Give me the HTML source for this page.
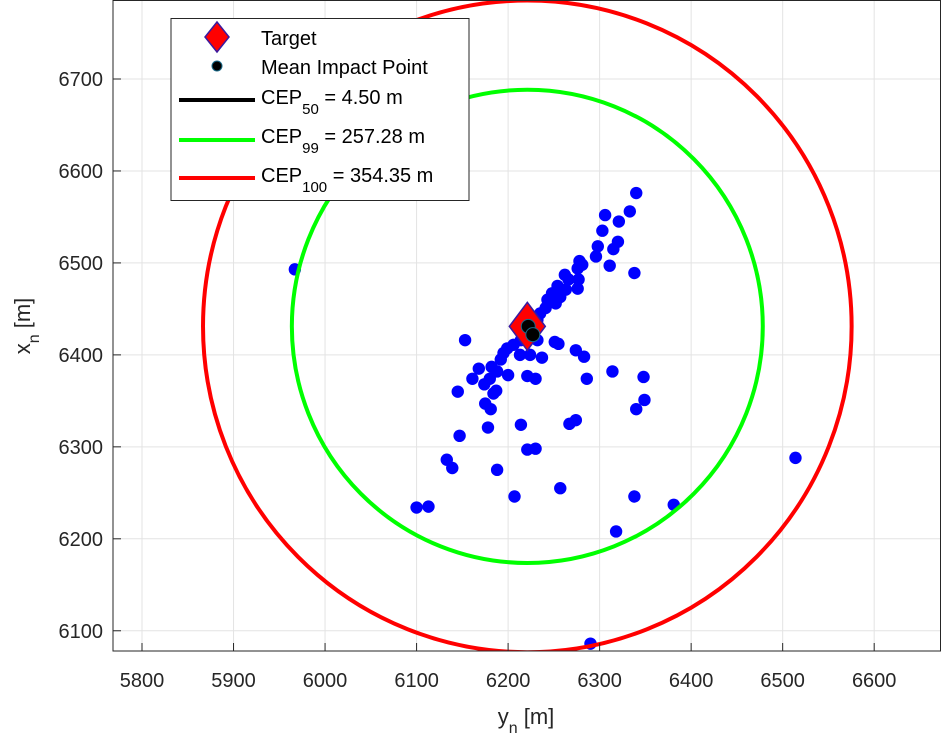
<!DOCTYPE html>
<html><head><meta charset="utf-8"><style>
html,body{margin:0;padding:0;background:#fff;}
svg{display:block;font-family:"Liberation Sans",Arial,sans-serif;}
</style></head><body>
<svg id="chart" width="943" height="739" viewBox="0 0 943 739" xmlns="http://www.w3.org/2000/svg"></svg>
<script>
const xTicks=[5800,5900,6000,6100,6200,6300,6400,6500,6600];
const yTicks=[6100,6200,6300,6400,6500,6600,6700];
const impactY=[6340,6306,6333,6321,6303,6320,6315,6298,6296,6311,6338,6278,6281,6276,6262,6277,6276,6266,6254,6263,6248,6257,6243,6252,6241,6235,6232,6153,6251,6255,6274,6283,6232,6214,6206,6199,6195,6192,6224,6237,6213,6168,6182,6188,6200,6161,6180,6221,6230,6286,6314,6348,6174,6187,6184,6145,6349,6340,6175,6181,6214,6267,6274,6178,6147,6221,6230,6133,6139,6188,6257,6207,6100,6113,6338,6381,6318,5967,6514,6290];
const impactX=[6576,6552,6556,6545,6535,6523,6515,6518,6507,6497,6489,6502,6498,6494,6487,6482,6472,6482,6475,6471,6467,6463,6460,6456,6451,6445,6438,6416,6414,6412,6405,6398,6416,6416,6411,6407,6402,6395,6400,6397,6400,6385,6387,6382,6378,6374,6374,6377,6374,6374,6382,6376,6368,6361,6358,6360,6351,6341,6347,6341,6324,6325,6329,6321,6312,6297,6298,6286,6277,6275,6255,6246,6234,6235,6246,6237,6208,6493,6288,6086];
const target=[6221,6431];
const meanY=[6222,6227];
const meanX=[6431,6422];
const cepRadii=[4.50,257.28,354.35];
const cepColors=['#000000','#00ff00','#ff0000'];

const L=113,R=941,T=0,B=651;
const xMin=5768.3,xMax=6673,yMin=6078,yMax=6785.9;
const sx=v=>L+(v-xMin)/(xMax-xMin)*(R-L);
const sy=v=>B-(v-yMin)/(yMax-yMin)*(B-T);
const NS='http://www.w3.org/2000/svg';
const svg=document.getElementById('chart');
function mk(tag,attrs,parent){const e=document.createElementNS(NS,tag);for(const k in attrs)e.setAttribute(k,attrs[k]);(parent||svg).appendChild(e);return e;}

const bg=mk('rect',{x:L,y:T,width:R-L,height:B-T,fill:'#fff'});



const grid=mk('g',{stroke:'#e3e3e3','stroke-width':1});


xTicks.forEach(t=>{mk('line',{x1:sx(t),x2:sx(t),y1:T,y2:B},grid);});
yTicks.forEach(t=>{mk('line',{x1:L,x2:R,y1:sy(t),y2:sy(t)},grid);});

const clip=mk('clipPath',{id:'cp'});
mk('rect',{x:L,y:T,width:R-L,height:B-T},clip);
const plot=mk('g',{'clip-path':'url(#cp)'});



const pts=mk('g',{fill:'#0000ff'},plot);


impactY.forEach((v,i)=>{
  const c=mk('circle',{cx:sx(v),cy:sy(impactX[i]),r:6.2},pts);
  
  
});

const pxPerUnitX=(R-L)/(xMax-xMin), pxPerUnitY=(B-T)/(yMax-yMin);
const cepNames=['cep50-circle','cep99-circle','cep100-circle'];
cepRadii.forEach((r,i)=>{
  const e=mk('ellipse',{cx:sx(target[0]),cy:sy(target[1]),rx:r*pxPerUnitX,ry:r*pxPerUnitY,fill:'none',stroke:cepColors[i],'stroke-width':4},plot);
  
  
});

const tx=sx(target[0]),ty=sy(target[1]);
const dia=mk('polygon',{points:`${tx},${ty-24} ${tx+18},${ty} ${tx},${ty+24} ${tx-18},${ty}`,fill:'#ff0000',stroke:'#3a1aa0','stroke-width':1.5},plot);


meanY.forEach((v,i)=>{
  const m=mk('circle',{cx:sx(v),cy:sy(meanX[i]),r:7,fill:'#000',stroke:'#1b6b8a','stroke-width':1},plot);
  
  
});

const box=mk('rect',{x:L,y:T+0.5,width:R-L-0.5,height:B-T-0.5,fill:'none',stroke:'#262626','stroke-width':1});



const xax=mk('g',{fill:'#262626','font-size':20,'text-anchor':'middle'});


xTicks.forEach(t=>{
  mk('line',{x1:sx(t),x2:sx(t),y1:B,y2:B-8,stroke:'#262626'},xax);
  const tl=mk('text',{x:sx(t),y:B+36},xax);tl.textContent=t;
  
  
});
const yax=mk('g',{fill:'#262626','font-size':20,'text-anchor':'end'});


yTicks.forEach(t=>{
  mk('line',{x1:L,x2:L+8,y1:sy(t),y2:sy(t),stroke:'#262626'},yax);
  const tl=mk('text',{x:L-10,y:sy(t)+7},yax);tl.textContent=t;
  
  
});
</script>
<svg style="position:absolute;left:0;top:0" width="943" height="739" xmlns="http://www.w3.org/2000/svg">
<g font-family="Liberation Sans, Arial, sans-serif" fill="#262626">
<text x="526" y="724" font-size="22" text-anchor="middle">y<tspan font-size="16" dy="9">n</tspan><tspan dy="-9"> [m]</tspan></text>
<text transform="translate(30,326) rotate(-90)" font-size="22" text-anchor="middle">x<tspan font-size="16" dy="9">n</tspan><tspan dy="-9"> [m]</tspan></text>
</g>
<g font-family="Liberation Sans, Arial, sans-serif" fill="#000">
<rect x="171" y="18.5" width="298" height="182" fill="#fff" stroke="#262626" stroke-width="1"/>
<polygon points="217,22 229,37 217,52 205,37" fill="#ff0000" stroke="#3a1aa0" stroke-width="1.5"/>
<text x="261" y="45" font-size="20">Target</text>
<circle cx="217" cy="66" r="5" fill="#000" stroke="#1b6b8a"/>
<text x="261" y="74" font-size="20">Mean Impact Point</text>
<line x1="179" x2="255" y1="100" y2="100" stroke="#000" stroke-width="4"/>
<text x="261" y="104" font-size="20">CEP<tspan font-size="15" dy="10">50</tspan><tspan dy="-10"> = 4.50 m</tspan></text>
<line x1="179" x2="255" y1="140" y2="140" stroke="#00ff00" stroke-width="4"/>
<text x="261" y="143" font-size="20">CEP<tspan font-size="15" dy="10">99</tspan><tspan dy="-10"> = 257.28 m</tspan></text>
<line x1="179" x2="255" y1="178" y2="178" stroke="#ff0000" stroke-width="4"/>
<text x="261" y="182" font-size="20">CEP<tspan font-size="15" dy="10">100</tspan><tspan dy="-10"> = 354.35 m</tspan></text>
</g>
</svg>
</body></html>
